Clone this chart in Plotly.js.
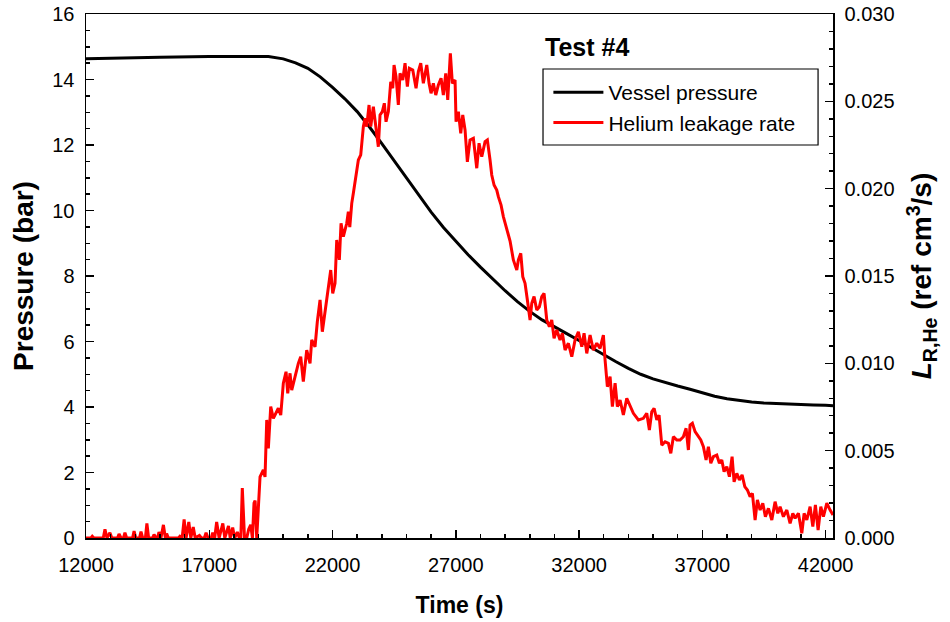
<!DOCTYPE html>
<html>
<head>
<meta charset="utf-8">
<script src="https://cdn.plot.ly/plotly-3.0.1.min.js"></script>
<style>html,body{margin:0;padding:0;background:#fff;}#chart{width:950px;height:622px;}</style>
</head>
<body>
<div id="chart"></div>
<script>
// Vessel pressure (bar) vs time (s)
var pressureTime = [12000,13000,15000,17000,19000,19400,20000,20500,21000,21500,22000,22500,23000,23500,24000,24500,25000,25500,26000,26500,27000,27500,28000,28500,29000,29500,30000,30500,31000,31500,32000,32500,33000,33500,34000,34500,35000,35500,36000,36500,37000,37500,38000,38500,39000,39500,40000,40500,41000,41500,42000,42300];
var pressureBar = [14.63,14.65,14.68,14.70,14.71,14.70,14.63,14.51,14.34,14.08,13.76,13.41,13.02,12.55,12.04,11.52,11.00,10.47,9.95,9.48,9.06,8.65,8.27,7.90,7.55,7.22,6.92,6.66,6.44,6.24,6.03,5.81,5.60,5.38,5.18,5.00,4.86,4.74,4.64,4.54,4.43,4.33,4.25,4.19,4.15,4.12,4.10,4.08,4.07,4.06,4.05,4.04];

// Helium leakage rate (ref cm3/s) vs time (s)
var leakTime = [12000,12200,12255,12320,12700,12770,12850,12970,13050,13280,13340,13420,13520,13580,13650,13890,13950,14020,14170,14230,14300,14410,14470,14540,14700,14760,14840,14900,14960,15040,15140,15220,15270,15340,15750,15810,15900,15980,16060,16170,16250,16350,16430,16600,16680,16800,16870,16950,17080,17140,17220,17300,17400,17550,17630,17780,17850,17950,18030,18140,18220,18280,18340,18430,18520,18600,18680,18750,18815,18860,18925,19059,19193,19262,19331,19396,19493,19598,19801,19899,20004,20114,20183,20276,20345,20479,20613,20710,20815,20953,21087,21156,21290,21383,21493,21586,21696,21830,21927,22008,22101,22170,22276,22345,22438,22576,22641,22700,22779,22844,22953,23047,23144,23250,23318,23387,23481,23550,23655,23753,23858,23927,24020,24101,24170,24264,24361,24442,24495,24576,24669,24738,24848,24941,25035,25116,25254,25387,25481,25578,25684,25822,25915,25996,26089,26187,26292,26402,26495,26592,26673,26779,26860,26970,27010,27104,27201,27282,27375,27469,27578,27712,27850,27943,28053,28187,28280,28389,28458,28552,28661,28726,28836,28929,29067,29201,29335,29473,29538,29635,29716,29809,29903,30012,30081,30174,30284,30390,30487,30580,30690,30795,30892,30986,31095,31229,31323,31432,31566,31704,31838,31972,32110,32203,32312,32446,32580,32718,32852,32986,33055,33148,33258,33351,33461,33554,33663,33797,33935,34069,34203,34406,34609,34746,34852,34949,35043,35152,35245,35355,35489,35623,35720,35826,35964,36097,36231,36341,36434,36503,36596,36706,36840,36937,37043,37152,37245,37343,37448,37586,37692,37789,37882,37992,38098,38207,38288,38398,38504,38613,38722,38828,38937,39031,39140,39233,39343,39452,39558,39680,39818,39951,40061,40154,40288,40426,40560,40670,40763,40897,41035,41128,41237,41371,41481,41586,41696,41805,41911,42049,42183,42300];
var leakRate = [0,0,0.0001,0,0,0.0005,0,0.0003,0,0,0.00023,0,0,0.0003,0,0,0.0004,0,0,0.00036,0,0,0.00084,0,0,0.0002,0,0,0.00034,0,0.00075,0,0.00025,0,0,0.0001,0,0.00107,0,0.00092,0,0.00063,0,0.00015,0,0,0.0003,0,0,0.0003,0,0.00092,0,0.00084,0,0.00069,0,0.0006,0,0.00034,0,0,0.00286,0,0,0.0005,0.00076,0,0.002,0.00214,0,0.0035,0.0039,0.0035,0.00676,0.00513,0.00752,0.00685,0.00743,0.00704,0.00886,0.00952,0.00828,0.00943,0.00847,0.00933,0.0100,0.01038,0.00895,0.01076,0.0100,0.01134,0.01095,0.01238,0.01363,0.01181,0.01305,0.01439,0.01534,0.01401,0.01458,0.01706,0.01592,0.01802,0.01725,0.01802,0.01868,0.0178,0.01916,0.01974,0.02088,0.02164,0.02193,0.02355,0.02403,0.02355,0.02479,0.02355,0.02469,0.02355,0.0224,0.02422,0.02441,0.02489,0.02383,0.02441,0.02612,0.02575,0.02708,0.02641,0.02479,0.0266,0.02622,0.02718,0.02584,0.02689,0.02679,0.02575,0.0267,0.02718,0.02603,0.02708,0.02603,0.02546,0.02603,0.02536,0.02594,0.02632,0.02536,0.0266,0.02508,0.02775,0.02603,0.02622,0.02383,0.02441,0.02317,0.02422,0.02336,0.02154,0.02279,0.02288,0.02117,0.0226,0.02183,0.02269,0.02279,0.02164,0.02078,0.02021,0.01992,0.01954,0.01906,0.0184,0.0176,0.0170,0.01592,0.01534,0.01592,0.0163,0.01496,0.01458,0.01363,0.01248,0.01344,0.01382,0.01305,0.01324,0.01382,0.01401,0.01248,0.0121,0.01248,0.01143,0.01191,0.01134,0.01172,0.01076,0.01115,0.01038,0.01134,0.01181,0.01095,0.01172,0.01057,0.01162,0.01076,0.01115,0.01086,0.01162,0.01019,0.00866,0.00924,0.00752,0.00886,0.00752,0.0079,0.00704,0.0080,0.00752,0.00714,0.00676,0.00685,0.00714,0.00618,0.00723,0.00743,0.00676,0.00704,0.00532,0.00551,0.00542,0.00485,0.0058,0.00561,0.00561,0.0058,0.00628,0.00504,0.00647,0.00657,0.00609,0.0058,0.00561,0.00523,0.00447,0.00523,0.00428,0.00466,0.00475,0.00428,0.00447,0.0038,0.00408,0.00351,0.00466,0.00322,0.0037,0.00332,0.00361,0.00294,0.00275,0.00237,0.00256,0.00103,0.00218,0.0016,0.00199,0.00122,0.0017,0.00103,0.00208,0.00141,0.00179,0.00122,0.0016,0.00084,0.00141,0.00113,0.00141,0.00027,0.00141,0.00103,0.00179,0.00065,0.00189,0.00046,0.00179,0.00122,0.00199,0.0016,0.00132];

var xTickVals = [12000,17000,22000,27000,32000,37000,42000];
var xTickText = ['12000','17000','22000','27000','32000','37000','42000'];

var FONT = 'Liberation Sans, Arial, sans-serif';

var traces = [
  {x: pressureTime, y: pressureBar, name: 'Vessel pressure', type: 'scatter', mode: 'lines',
   line: {color: '#000000', width: 3}, yaxis: 'y'},
  {x: leakTime, y: leakRate, name: 'Helium leakage rate', type: 'scatter', mode: 'lines',
   line: {color: '#ff0000', width: 3}, yaxis: 'y2'}
];

var layout = {
  width: 950, height: 622,
  margin: {l: 86, r: 117, t: 14, b: 84},
  paper_bgcolor: '#ffffff', plot_bgcolor: '#ffffff',
  font: {family: FONT, size: 20, color: '#000'},
  showlegend: true,
  legend: {x: 0.619, y: 0.8216, xanchor: 'left', yanchor: 'middle',
    bordercolor: 'rgba(0,0,0,0)', borderwidth: 0, bgcolor: 'rgba(255,255,255,0)',
    font: {family: FONT, size: 21, color: '#000'}, tracegroupgap: 0, itemwidth: 50},
  shapes: [
    {type: 'rect', xref: 'paper', yref: 'paper', x0: 0.6118, x1: 0.980, y0: 0.750, y1: 0.895,
     line: {color: '#000', width: 1.2}, fillcolor: 'rgba(255,255,255,0)', layer: 'above'}
  ],
  xaxis: {
    range: [12000, 42300], tickmode: 'array', tickvals: xTickVals, ticktext: xTickText,
    ticks: 'inside', ticklen: 8, tickwidth: 1.5, tickcolor: '#000', ticklabelstandoff: 8,
    minor: {dtick: 1000, tick0: 12000, ticks: 'inside', ticklen: 4, tickwidth: 1.5, tickcolor: '#000', showgrid: false},
    showline: true, linecolor: '#000', linewidth: 1.5, mirror: true,
    showgrid: false, zeroline: false,
    tickfont: {family: FONT, size: 20, color: '#000'},
    title: {text: '<b>Time (s)</b>', font: {family: FONT, size: 23, color: '#000'}, standoff: 22}
  },
  yaxis: {
    range: [0, 16], dtick: 2, tick0: 0,
    ticks: 'inside', ticklen: 8, tickwidth: 1.5, tickcolor: '#000', ticklabelstandoff: 6,
    minor: {dtick: 0.5, ticks: 'inside', ticklen: 4, tickwidth: 1.5, tickcolor: '#000', showgrid: false},
    showline: true, linecolor: '#000', linewidth: 1.5,
    showgrid: false, zeroline: false,
    tickfont: {family: FONT, size: 20, color: '#000'},
    title: {text: '<b>Pressure (bar)</b>', font: {family: FONT, size: 28, color: '#000'}, standoff: 10}
  },
  yaxis2: {
    overlaying: 'y', side: 'right', anchor: 'x',
    range: [0, 0.030], dtick: 0.005, tick0: 0, tickformat: '.3f',
    ticks: 'inside', ticklen: 8, tickwidth: 1.5, tickcolor: '#000', ticklabelstandoff: 6,
    minor: {dtick: 0.001, ticks: 'inside', ticklen: 4, tickwidth: 1.5, tickcolor: '#000', showgrid: false},
    showline: true, linecolor: '#000', linewidth: 1.5,
    showgrid: false, zeroline: false,
    tickfont: {family: FONT, size: 20, color: '#000'},
    title: {text: '<b><i>L</i><sub>R,He</sub> (ref cm<sup>3</sup>/s)</b>', font: {family: FONT, size: 28, color: '#000'}, standoff: 18}
  },
  annotations: [
    {xref: 'paper', yref: 'paper', x: 0.6118, y: 0.937, xanchor: 'left', yanchor: 'middle',
     text: '<b>Test #4</b>', showarrow: false, font: {family: FONT, size: 25, color: '#000'}}
  ]
};

Plotly.newPlot('chart', traces, layout, {displayModeBar: false, staticPlot: true});
</script>
</body>
</html>
